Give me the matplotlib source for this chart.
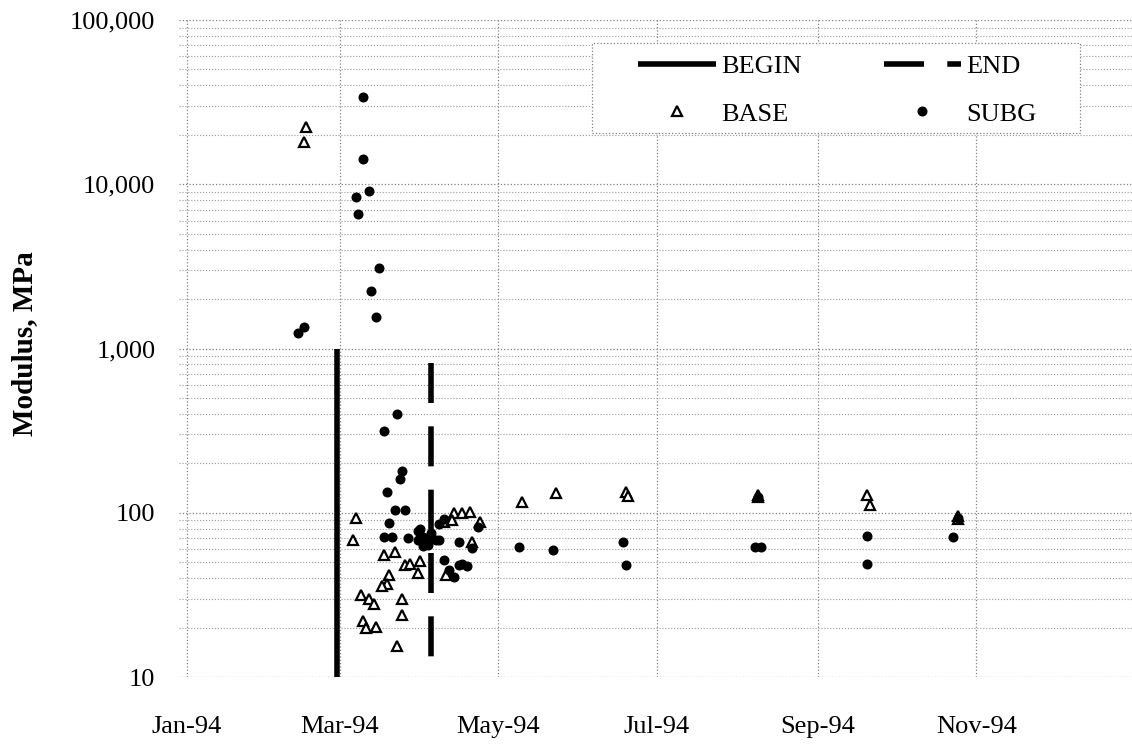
import numpy as np
import matplotlib
matplotlib.use('Agg')
from matplotlib import pyplot as plt
from matplotlib.patches import Rectangle
import matplotlib.dates as mdates
from matplotlib.ticker import FixedLocator, LogLocator, NullFormatter

# values
base_dates = ['1994-02-16', '1994-02-15', '1994-03-07', '1994-03-06', '1994-03-18',
              '1994-03-22', '1994-03-26', '1994-03-28', '1994-04-01', '1994-03-31',
              '1994-03-20', '1994-03-19', '1994-03-17', '1994-03-09', '1994-03-12',
              '1994-03-14', '1994-03-25', '1994-03-25', '1994-03-10', '1994-03-11',
              '1994-03-15', '1994-03-23', '1994-04-02', '1994-04-10', '1994-04-14',
              '1994-04-17', '1994-04-20', '1994-04-13', '1994-04-24', '1994-04-21',
              '1994-04-11', '1994-05-10', '1994-05-23', '1994-06-19', '1994-06-20',
              '1994-08-09', '1994-08-09', '1994-09-20', '1994-09-21', '1994-10-25',
              '1994-10-25']
base_vals = [22300, 18100, 93, 68, 55,
             58, 48, 49, 51, 43,
             42, 37, 36, 31.5, 30,
             27.8, 30, 24, 22, 20,
             20.2, 15.5, 69, 88, 100,
             100, 101, 90, 88, 66,
             42, 117, 131, 134, 126,
             128, 124, 128, 111, 95,
             91]

subg_dates = ['1994-02-13', '1994-02-15', '1994-03-10', '1994-03-10', '1994-03-12',
              '1994-03-07', '1994-03-08', '1994-03-16', '1994-03-13', '1994-03-15',
              '1994-03-23', '1994-03-18', '1994-03-25', '1994-03-24', '1994-03-19',
              '1994-03-22', '1994-03-26', '1994-03-20', '1994-03-18', '1994-03-21',
              '1994-03-27', '1994-03-31', '1994-04-01', '1994-03-31', '1994-04-02',
              '1994-04-03', '1994-04-04', '1994-04-02', '1994-04-05', '1994-04-05',
              '1994-04-07', '1994-04-08', '1994-04-08', '1994-04-10', '1994-04-16',
              '1994-04-10', '1994-04-12', '1994-04-14', '1994-04-16', '1994-04-17',
              '1994-04-19', '1994-04-23', '1994-04-21', '1994-05-09', '1994-05-22',
              '1994-06-18', '1994-06-19', '1994-08-08', '1994-08-10', '1994-08-09',
              '1994-09-20', '1994-09-20', '1994-10-23', '1994-10-25']
subg_vals = [1240, 1350, 33800, 14300, 9100,
             8400, 6560, 3100, 2250, 1550,
             399, 315, 180, 160, 133,
             104, 104, 87, 71, 71,
             70, 77, 80, 68, 71,
             67, 64, 63, 75, 70,
             68, 68, 86, 92, 66,
             51.5, 45, 40.5, 48, 49,
             47.5, 82, 61, 61.5, 59.3,
             66.7, 48, 62, 62, 125,
             72, 48.5, 71, 93]

begin_date = '1994-02-28'
begin_range = [10, 1000]
end_date = '1994-04-05'
end_range = [820, 10]

y_ticks = [10, 100, 1000, 10000, 100000]
y_labels = ['10', '100', '1,000', '10,000', '100,000']
x_ticks = ['1994-01-01', '1994-03-01', '1994-05-01', '1994-07-01', '1994-09-01', '1994-11-01']

plt.rcParams['font.family'] = ['Liberation Serif', 'DejaVu Serif']

W, H = 1132, 744
fig = plt.figure(figsize=(W / 100, H / 100), dpi=100)
ax = fig.add_axes([179 / W, 67 / H, 953 / W, 657 / H])

d = lambda s: np.datetime64(s)

h_begin, = ax.plot([d(begin_date)] * 2, begin_range, color='black', lw=4,
                   solid_capstyle='butt', label='BEGIN', zorder=3)
h_end, = ax.plot([d(end_date)] * 2, end_range, color='black', lw=4,
                 linestyle=(0, (7.2, 4.2)), dash_capstyle='butt', label='END', zorder=3)
h_base, = ax.plot([d(s) for s in base_dates], base_vals, linestyle='none', marker='^',
                  ms=7, mfc='white', mec='black', mew=1.6, label='BASE', zorder=4)
h_subg, = ax.plot([d(s) for s in subg_dates], subg_vals, linestyle='none', marker='o',
                  ms=6.2, mfc='black', mec='black', label='SUBG', zorder=5)

ax.set_yscale('log')
ax.set_ylim(10, 100000)
ax.set_xlim(d('1993-12-29'), d('1994-12-31'))

ax.yaxis.set_major_locator(FixedLocator(y_ticks))
ax.set_yticklabels(y_labels)
ax.yaxis.set_minor_locator(LogLocator(base=10, subs=np.arange(2, 10)))
ax.yaxis.set_minor_formatter(NullFormatter())
ax.xaxis.set_major_locator(FixedLocator([mdates.date2num(d(s)) for s in x_ticks]))
ax.xaxis.set_major_formatter(mdates.DateFormatter('%b-%y'))

ax.tick_params(axis='both', which='both', length=0)
ax.tick_params(axis='y', labelsize=19, pad=17)
ax.tick_params(axis='x', labelsize=19, pad=28)

for sp in ax.spines.values():
    sp.set_visible(False)

ax.grid(True, which='major', axis='both', color='0.5', linestyle=':', lw=0.9)
ax.grid(True, which='minor', axis='y', color='0.6', linestyle=':', lw=0.8)
ax.set_axisbelow(True)

fig.text(25 / W, 1 - 344 / H, 'Modulus, MPa', rotation=90, ha='center',
         va='center', fontsize=21, fontweight='bold')

# legend box drawn separately (wide side padding in the original)
box = Rectangle((592 / W, 1 - 133 / H), 488 / W, 90 / H, transform=fig.transFigure,
                facecolor='white', edgecolor='0.5', linestyle=':', lw=0.9,
                zorder=8, clip_on=False)
ax.add_patch(box)

leg = ax.legend([h_begin, h_base, h_end, h_subg], ['BEGIN', 'BASE', 'END', 'SUBG'],
                loc='upper left', bbox_to_anchor=(638 / W, 1 - 55 / H),
                bbox_transform=fig.transFigure, borderaxespad=0, borderpad=0,
                ncol=2, fontsize=19, handlelength=2.95, handletextpad=0.2,
                columnspacing=3.1, labelspacing=0.9, frameon=False)
leg.set_zorder(10)

fig.savefig('out.png', dpi=100)
